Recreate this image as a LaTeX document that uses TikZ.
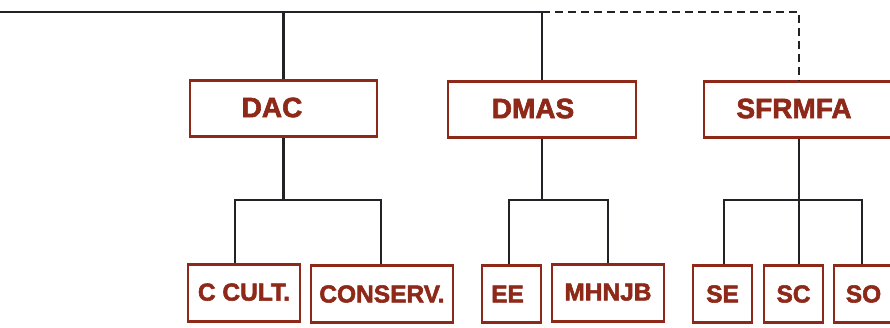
\documentclass[tikz,border=0pt]{standalone}
\usepackage{fontspec}
\setmainfont{Liberation Sans}[BoldFeatures={FakeBold=2.2}]
\usetikzlibrary{positioning}
\definecolor{brick}{RGB}{142,40,24}
\definecolor{wire}{RGB}{34,34,38}

\begin{document}
\begin{tikzpicture}[x=1pt,y=-1pt,semithick]
\tikzstyle{dir node}=[rectangle,draw=brick,line width=2.7pt,minimum width=187pt,minimum height=56pt,inner sep=0]
\tikzstyle{sec node}=[rectangle,draw=brick,line width=2.7pt,minimum height=57pt,inner sep=0,text=brick,font=\fontsize{24.5}{25}\selectfont\bfseries]

\tikzset{
	dir text/.style={text=brick,font=\fontsize{28}{29}\selectfont\bfseries},
	link/.style={draw=wire,line width=2.7pt},
	soft link/.style={link,dash pattern=on 8pt off 5pt}
}
\useasboundingbox (0,0) rectangle (890,327);

      \node[dir node,label={[dir text,xshift=-11.5pt,yshift=1pt]center:DAC}] (dac) at (283.5,108.5) {};
      \node[dir node,minimum width=188pt,label={[dir text,xshift=-9pt,yshift=1pt]center:DMAS}] (dmas) at (542,109.5) {};
      \node[dir node,minimum width=190pt,label={[dir text,xshift=-5pt,yshift=1pt]center:SFRMFA}] (sfrmfa) at (799,109.5) {};

      \node[sec node,minimum width=112pt] (ccult) at (244,293) {\raisebox{2pt}{C CULT.}};
      \node[sec node,minimum width=142pt] (conserv) at (382,294) {CONSERV.};
      \node[sec node,minimum width=59pt] (ee) at (511.5,294) {\hspace*{-8pt}EE};
      \node[sec node,minimum width=112pt] (mhnjb) at (608,293) {\raisebox{2pt}{MHNJB}};
      \node[sec node,minimum width=59pt] (se) at (722.5,294) {SE};
      \node[sec node,minimum width=59pt] (sc) at (793.5,294) {SC};
      \node[sec node,minimum width=59pt] (so) at (863.5,294) {SO};

      \coordinate (top) at (0,12);

    % top bar
    \path[link] (top) -- (dmas.north |- top) -- (dmas.north);
    \path[link] (dac.north |- top) -- (dac.north);
    \path[soft link] (dmas.north |- top) -| (sfrmfa.north);

    % DAC
    \path[link] (dac.south) -- ++(0,62) coordinate (dacbar);
    \path[link] ([xshift=-9pt]ccult.north) |- (dacbar) -| ([xshift=-1pt]conserv.north);
    % DMAS
    \path[link] (dmas.south) -- ++(0,61) coordinate (dmasbar);
    \path[link] ([xshift=-2.5pt]ee.north) |- (dmasbar) -| (mhnjb.north);
    % SFRMFA
    \path[link] (sfrmfa.south) -- ++(0,61) coordinate (sfbar);
    \path[link] ([xshift=1.5pt]se.north) |- (sfbar) -| ([xshift=-1.5pt]so.north);
    \path[link] (sfbar) -- (sfbar |- sc.north);
;
\end{tikzpicture}
\end{document}
